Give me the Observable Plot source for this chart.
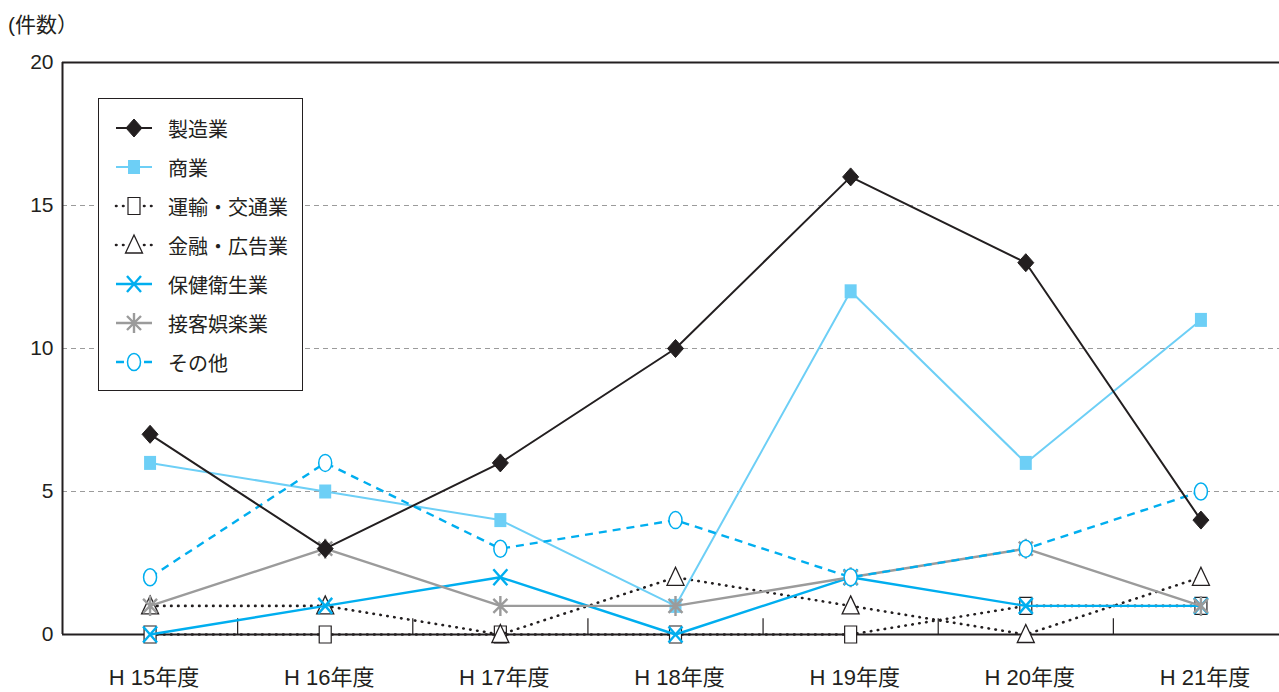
<!DOCTYPE html>
<html lang="ja">
<head>
<meta charset="utf-8">
<script src="https://cdn.jsdelivr.net/npm/d3@7"></script>
<script src="https://cdn.jsdelivr.net/npm/@observablehq/plot@0.6"></script>
<style>
  html, body { margin: 0; padding: 0; background: #fff; }
  #wrap { position: relative; width: 1279px; height: 692px; overflow: hidden; }
  #unit { position: absolute; left: 8px; top: 8px; font: 21px "Liberation Sans", "Noto Sans CJK JP", sans-serif; color: #231F20; }
  #legend { position: absolute; left: 98px; top: 98px; width: 205px; height: 293px; border: 1.3px solid #231F20; background: #fff; box-sizing: border-box; }
  .row { position: absolute; left: 0; height: 24px; display: flex; align-items: center; }
  .row svg { margin-left: 15px; }
  .row span { margin-left: 14px; font: 20px "Noto Sans CJK JP", sans-serif; color: #231F20; }
</style>
</head>
<body>
<div id="wrap">
  <div id="chart"></div>
  <div id="unit">(件数）</div>
  <div id="legend"></div>
</div>
<script>
// Fiscal years on the x axis
const years = ["H 15年度", "H 16年度", "H 17年度", "H 18年度", "H 19年度", "H 20年度", "H 21年度"];

// Counts per industry and year
const manufacturing = [7, 3, 6, 10, 16, 13, 4];
const commerce = [6, 5, 4, 1, 12, 6, 11];
const transport = [0, 0, 0, 0, 0, 1, 1];
const finance = [1, 1, 0, 2, 1, 0, 2];
const health = [0, 1, 2, 0, 2, 1, 1];
const entertainment = [1, 3, 1, 1, 2, 3, 1];
const other = [2, 6, 3, 4, 2, 3, 5];

const seriesNames = ["製造業", "商業", "運輸・交通業", "金融・広告業", "保健衛生業", "接客娯楽業", "その他"];
const seriesValues = [manufacturing, commerce, transport, finance, health, entertainment, other];
const yTicks = [0, 5, 10, 15, 20];

// Marker shapes (fixed pixel size, slightly taller than wide)
const sym = {
  diamond: {draw(c) { c.moveTo(0, -9); c.lineTo(8, 0); c.lineTo(0, 9); c.lineTo(-8, 0); c.closePath(); }},
  square: {draw(c) { c.moveTo(-6, -7); c.lineTo(6, -7); c.lineTo(6, 7); c.lineTo(-6, 7); c.closePath(); }},
  rect: {draw(c) { c.moveTo(-6, -8.5); c.lineTo(6, -8.5); c.lineTo(6, 8.5); c.lineTo(-6, 8.5); c.closePath(); }},
  triangle: {draw(c) { c.moveTo(0, -10); c.lineTo(8.5, 8); c.lineTo(-8.5, 8); c.closePath(); }},
  times: {draw(c) { c.moveTo(-7, -8); c.lineTo(7, 8); c.moveTo(7, -8); c.lineTo(-7, 8); }},
  asterisk: {draw(c) { c.moveTo(0, -10); c.lineTo(0, 10); c.moveTo(-7, -7); c.lineTo(7, 7); c.moveTo(7, -7); c.lineTo(-7, 7); }},
  ellipse: {draw(c) {
    const rx = 6.5, ry = 8.5, k = 0.5523;
    c.moveTo(0, -ry);
    c.bezierCurveTo(rx * k, -ry, rx, -ry * k, rx, 0);
    c.bezierCurveTo(rx, ry * k, rx * k, ry, 0, ry);
    c.bezierCurveTo(-rx * k, ry, -rx, ry * k, -rx, 0);
    c.bezierCurveTo(-rx, -ry * k, -rx * k, -ry, 0, -ry);
    c.closePath();
  }}
};

const black = "#231F20", light = "#6DCFF6", cyan = "#00AEEF", gray = "#9B9B9B";
const dotted = "0.5,6.5";
const styles = {
  "製造業":      {stroke: black, width: 2, dash: null, cap: "butt", symbol: sym.diamond, fill: black, symStroke: black, symWidth: 1},
  "商業":        {stroke: light, width: 2, dash: null, cap: "butt", symbol: sym.square, fill: light, symStroke: light, symWidth: 0},
  "運輸・交通業": {stroke: black, width: 2.6, dash: dotted, cap: "round", symbol: sym.rect, fill: "#fff", symStroke: black, symWidth: 1.2},
  "金融・広告業": {stroke: black, width: 2.6, dash: dotted, cap: "round", symbol: sym.triangle, fill: "#fff", symStroke: black, symWidth: 1.3},
  "保健衛生業":  {stroke: cyan, width: 2.4, dash: null, cap: "butt", symbol: sym.times, fill: "none", symStroke: cyan, symWidth: 2.4},
  "接客娯楽業":  {stroke: gray, width: 2.4, dash: null, cap: "butt", symbol: sym.asterisk, fill: "none", symStroke: gray, symWidth: 2.4},
  "その他":      {stroke: cyan, width: 2.4, dash: "8,6", cap: "butt", symbol: sym.ellipse, fill: "#fff", symStroke: cyan, symWidth: 1.5}
};

// Draw order (later on top)
const drawOrder = ["運輸・交通業", "金融・広告業", "商業", "保健衛生業", "接客娯楽業", "その他", "製造業"];
const idx = d3.range(years.length);

const seriesMarks = drawOrder.flatMap((name) => {
  const values = seriesValues[seriesNames.indexOf(name)];
  const s = styles[name];
  return [
    Plot.line(idx, {x: (i) => i, y: (i) => values[i], stroke: s.stroke, strokeWidth: s.width,
      strokeDasharray: s.dash, strokeLinecap: s.cap, curve: "linear"}),
    Plot.dot(idx, {x: (i) => i, y: (i) => values[i], symbol: s.symbol, fill: s.fill,
      stroke: s.symStroke, strokeWidth: s.symWidth})
  ];
});

const font = "'Liberation Sans', 'Noto Sans CJK JP', sans-serif";

const chart = Plot.plot({
  width: 1279,
  height: 692,
  marginLeft: 62,
  marginRight: 0,
  marginTop: 62,
  marginBottom: 58,
  style: {fontFamily: font, color: black, background: "#fff"},
  x: {type: "linear", domain: [-0.5, years.length - 0.5], range: [62, 1288]},
  y: {domain: [0, 20]},
  marks: [
    Plot.ruleY([5, 10, 15], {stroke: "#9B9B9B", strokeWidth: 1, strokeDasharray: "5,4"}),
    Plot.ruleX(d3.range(years.length - 1).map((i) => i + 0.5), {y1: 0, y2: 0.55, stroke: black, strokeWidth: 1.2}),
    Plot.ruleY([0, 20], {stroke: black, strokeWidth: 2}),
    Plot.ruleX([-0.5], {y1: 0, y2: 20, stroke: black, strokeWidth: 2}),
    Plot.axisY({ticks: yTicks, tickSize: 0, tickPadding: 9, fontSize: 21, label: null, fill: black}),
    Plot.axisX({ticks: idx, tickFormat: (i) => years[i], tickSize: 0, tickPadding: 35, fontSize: 22,
      dx: 4, label: null, fill: black}),
    ...seriesMarks
  ]
});
document.getElementById("chart").append(chart);

// Legend box
const legend = document.getElementById("legend");
seriesNames.forEach((name, k) => {
  const s = styles[name];
  const row = document.createElement("div");
  row.className = "row";
  row.style.top = (17 + k * 39) + "px";
  const p = d3.path();
  s.symbol.draw(p, 0);
  const svg = d3.create("svg").attr("width", 40).attr("height", 24);
  svg.append("line").attr("x1", 2).attr("x2", 38).attr("y1", 12).attr("y2", 12)
    .attr("stroke", s.stroke).attr("stroke-width", s.width)
    .attr("stroke-dasharray", s.dash).attr("stroke-linecap", s.cap);
  svg.append("path").attr("d", p.toString()).attr("transform", "translate(20,12)")
    .attr("fill", s.fill).attr("stroke", s.symStroke).attr("stroke-width", s.symWidth);
  row.append(svg.node());
  const label = document.createElement("span");
  label.textContent = name;
  row.append(label);
  legend.append(row);
});
</script>
</body>
</html>
